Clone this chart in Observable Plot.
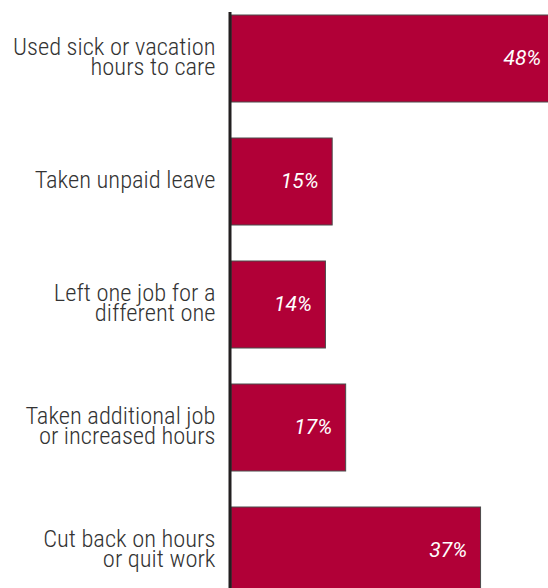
<!DOCTYPE html>
<html>
<head>
<meta charset="utf-8">
<script src="https://cdn.jsdelivr.net/npm/d3@7"></script>
<script src="https://cdn.jsdelivr.net/npm/@observablehq/plot@0.6"></script>
<style>
  html, body { margin: 0; padding: 0; background: #fff; }
  #chart svg { display: block; }
  #chart svg g.lbl text { font-family: Roboto, sans-serif; font-stretch: condensed; font-weight: 300; }
  #chart svg g.val text { font-family: Roboto, sans-serif; font-weight: 400; font-style: italic; }
</style>
</head>
<body>
<div id="chart"></div>
<script>
const categories = [
  "Used sick or vacation\nhours to care",
  "Taken unpaid leave",
  "Left one job for a\ndifferent one",
  "Taken additional job\nor increased hours",
  "Cut back on hours\nor quit work"
];
const values = [48, 15, 14, 17, 37];
const valueLabels = ["48%", "15%", "14%", "17%", "37%"];

const data = categories.map((c, i) => ({cat: c, value: values[i], label: valueLabels[i]}));

const chart = Plot.plot({
  width: 548,
  height: 588,
  marginLeft: 231,
  marginRight: 0,
  marginTop: 12,
  marginBottom: 0,
  style: {fontFamily: "Roboto, sans-serif", background: "#fff"},
  x: {domain: [0, 47], axis: null},
  y: {type: "band", domain: categories, range: [15, 596], paddingInner: 0.296, paddingOuter: 0, align: 0, axis: null},
  marks: [
    Plot.barX(data, {x: "value", y: "cat", fill: "#b10037", stroke: "#4a4a4a", strokeWidth: 1, clip: true}),
    Plot.ruleX([0], {dx: -1.5, stroke: "#231f20", strokeWidth: 3}),
    Plot.text(data, {
      y: "cat", text: "cat", frameAnchor: "left", dx: -16, textAnchor: "end",
      fontSize: 24.5, lineHeight: 0.82, fill: "#333", className: "lbl"
    }),
    Plot.text(data, {
      x: "value", y: "cat", text: "label", dx: -14, dy: -1, textAnchor: "end",
      fontSize: 21, fill: "#fff", className: "val"
    })
  ]
});
document.getElementById("chart").appendChild(chart);
</script>
</body>
</html>
